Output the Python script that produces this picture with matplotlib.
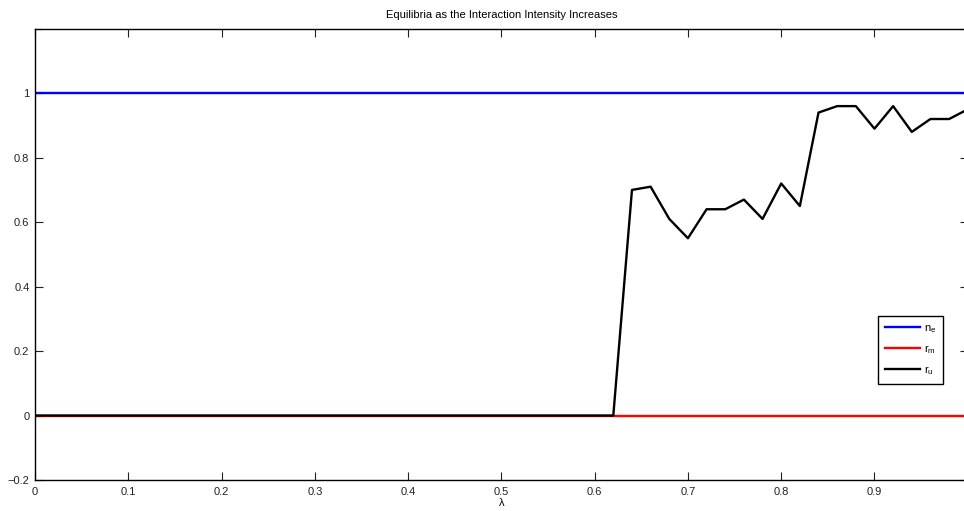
import numpy as np
import matplotlib
matplotlib.use("Agg")
from matplotlib import pyplot as plt

plt.rcParams['font.family'] = ['Liberation Sans', 'DejaVu Sans']
plt.rcParams['mathtext.fontset'] = 'custom'
plt.rcParams['mathtext.rm'] = 'Liberation Sans'

# interaction intensity grid and the equilibrium values found at each step
lam = [0.00, 0.02, 0.04, 0.06, 0.08, 0.10, 0.12, 0.14, 0.16, 0.18,
       0.20, 0.22, 0.24, 0.26, 0.28, 0.30, 0.32, 0.34, 0.36, 0.38,
       0.40, 0.42, 0.44, 0.46, 0.48, 0.50, 0.52, 0.54, 0.56, 0.58,
       0.60, 0.62, 0.64, 0.66, 0.68, 0.70, 0.72, 0.74, 0.76, 0.78,
       0.80, 0.82, 0.84, 0.86, 0.88, 0.90, 0.92, 0.94, 0.96, 0.98, 1.00]
n_e = [1.0] * len(lam)
r_m = [0.0] * len(lam)
r_u = [0.0] * 32 + [0.70, 0.71, 0.61, 0.55, 0.64, 0.64, 0.67, 0.61,
                    0.72, 0.65, 0.94, 0.96, 0.96, 0.89, 0.96, 0.88,
                    0.92, 0.92, 0.95]

r_u_lam = lam[:len(r_u)]

fig = plt.figure(figsize=(9.64, 5.11), dpi=100)
ax = fig.add_axes([0.0363, 0.0607, 0.9676, 0.883])

ax.plot(lam, n_e, color='#0000ff', lw=1.7, label=r'n$_\mathrm{e}$')
ax.plot(lam, r_m, color='#ff0000', lw=1.7, label=r'r$_\mathrm{m}$')
ax.plot(r_u_lam, r_u, color='black', lw=1.7, label=r'r$_\mathrm{u}$')

ax.set_xlim(0, 1.0)
ax.set_ylim(-0.2, 1.2)
ax.set_xticks(np.arange(0, 1.0, 0.1))
ax.set_xticklabels(['0', '0.1', '0.2', '0.3', '0.4', '0.5', '0.6', '0.7', '0.8', '0.9'])
ax.set_yticks([-0.2, 0, 0.2, 0.4, 0.6, 0.8, 1.0, 1.2])
ax.set_yticklabels(['\u22120.2', '0', '0.2', '0.4', '0.6', '0.8', '1', ''])
ax.tick_params(direction='in', top=True, right=True, length=6, width=0.8,
               labelsize=8, colors='#222222')
ax.tick_params(axis='x', pad=5)
ax.tick_params(axis='y', pad=4)
for s in ax.spines.values():
    s.set_linewidth(1.0)

ax.set_title('Equilibria as the Interaction Intensity Increases', fontsize=8, pad=8)
ax.set_xlabel('\u03bb', fontsize=8, labelpad=1)

leg = ax.legend(loc='upper left', bbox_to_anchor=(0.904, 0.3625), fontsize=8,
                fancybox=False, framealpha=1, edgecolor='black',
                handlelength=3.2, borderpad=0.6, labelspacing=0.75,
                handletextpad=0.3, borderaxespad=0)
leg.get_frame().set_linewidth(1.0)

fig.savefig('out.png', dpi=100)
